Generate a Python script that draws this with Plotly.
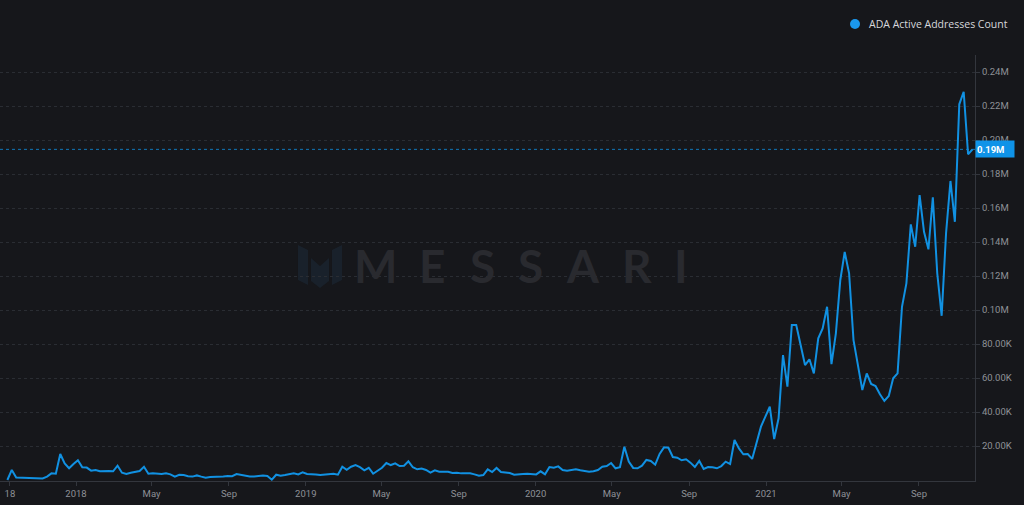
import pandas as pd
import plotly.graph_objects as go

# ---------------- data (weekly ADA active addresses) ----------------
start_date = "2017-09-14"
active_addresses = [
    0, 5900, 1400, 1300, 1200, 1000, 800, 800, 900, 2000, 3900, 3700, 15300, 9800, 6900, 9400,
    11600, 7500, 7300, 5500, 5900, 5100, 5300, 5300, 5100, 8400, 4300, 3600, 4300, 4900, 5300,
    7800, 3700, 3900, 3700, 3500, 3900, 3300, 2000, 3100, 2900, 2200, 2000, 2700, 2000, 1400,
    1800, 1800, 2000, 2000, 2400, 2200, 3500, 2900, 2400, 2000, 2000, 2200, 2700, 2400, 200,
    3100, 2500, 2900, 3500, 3900, 3300, 4500, 3500, 3500, 3300, 2900, 3100, 3500, 3700, 3100,
    # 2019
    7800, 6000, 7800, 8800, 7600, 5700, 7200, 3700, 5500, 7200, 10000, 8800, 9800, 8200, 8400,
    11000, 7500, 6300, 6700, 5900, 4300, 5700, 4900, 4900, 4900, 4100, 4300, 3900, 3900, 3900,
    3300, 2500, 2900,
    # late 2019 - 2020
    6300, 4700, 7100, 4700, 4300, 4100, 3100, 3500, 3500, 3700, 3300, 3300, 5100, 3300, 7600,
    7200, 8000, 5900, 5500, 5900, 6300, 5700, 5300, 4900, 5100, 5900, 7800, 8200, 10000, 6900,
    7500, 19600, 10800, 7100, 6900, 8400, 11800, 11200, 9000, 15300, 19200, 19000, 13500, 13100,
    11600, 12200, 10200, 7600, 11200, 6500, 7600, 7500, 6900, 8200, 10800, 9400, 23500,
    # 2021
    18600, 15100, 15300, 12400, 21600, 31400, 37300, 43100, 24100, 36300, 73500, 54900, 91200,
    91200, 79400, 67600, 71000, 62700, 83300, 89200, 101900, 68200, 86300, 117600, 134100,
    121600, 82300, 68600, 52900, 62700, 56500, 55300, 50400, 46500, 49400, 59800, 62700, 101900,
    115700, 150400, 137200, 167600, 146000, 135700, 166300, 121600, 96600, 145100, 175900,
    151900, 221000, 228400, 191600, 194500,
]
dates = pd.date_range(start_date, periods=len(active_addresses), freq="7D")
series_name = "ADA Active Addresses Count"

tick_dates = ["2017-09-18", "2018-01-01", "2018-05-01", "2018-09-01", "2019-01-01", "2019-05-01",
              "2019-09-01", "2020-01-01", "2020-05-01", "2020-09-01", "2021-01-01", "2021-05-01",
              "2021-09-01"]
tick_labels = ["18", "2018", "May", "Sep", "2019", "May", "Sep", "2020", "May", "Sep", "2021",
               "May", "Sep"]
y_ticks = [20000, 40000, 60000, 80000, 100000, 120000, 140000, 160000, 180000, 200000,
           220000, 240000]


def fmt(v):
    return f"{v/1e6:.2f}M" if v >= 100000 else f"{v/1e3:.2f}K"


# ---------------- style ----------------
BG = "#16171b"
LINE = "#1191e2"
GRID = "#2a2d33"
AXIS = "#33363d"
TXT = "#8e9197"

W, H = 1024, 505
ML, MR, MT, MB = 0, 49, 55, 24
plot_w = W - ML - MR
plot_h = H - MT - MB
px_per_day = 690 / (pd.Timestamp("2021-01-01") - pd.Timestamp("2018-01-01")).days
x0 = pd.Timestamp("2018-01-01") - pd.Timedelta(days=76 / px_per_day)
x1 = x0 + pd.Timedelta(days=plot_w / px_per_day)

fig = go.Figure()
fig.add_trace(go.Scatter(x=dates, y=active_addresses, mode="lines",
                         line=dict(color=LINE, width=2), showlegend=False,
                         name=series_name))

# legend (dot + label)
fig.add_shape(type="circle", xref="paper", yref="paper",
              x0=850 / plot_w, x1=860 / plot_w,
              y0=(H - MB - 29) / plot_h, y1=(H - MB - 19) / plot_h,
              fillcolor="#1a98ee", line=dict(width=0))
fig.add_annotation(xref="paper", yref="paper", x=867 / plot_w, xanchor="left",
                   y=(H - MB - 24) / plot_h, yanchor="middle", text=series_name,
                   showarrow=False, font=dict(color="#d6d8dc", size=10.5, family="Open Sans"))

last = active_addresses[-1]
fig.add_shape(type="line", xref="paper", x0=0, x1=1, yref="y", y0=last, y1=last,
              line=dict(color=LINE, width=1, dash="dot"), opacity=0.8)
fig.add_annotation(xref="paper", x=1, xanchor="left", yref="y", y=last, yanchor="middle",
                   text=f"<b>{last/1e6:.2f}M</b>", showarrow=False, align="left",
                   bgcolor="#0f93e8", width=36, height=14, borderpad=1,
                   font=dict(color="#ffffff", size=9.5, family="Roboto"))

# watermark
letters = list("MESSARI")
centers_px = [375, 432, 482, 530, 583, 637, 681]
for ch, cx in zip(letters, centers_px):
    fig.add_annotation(xref="paper", yref="paper", x=cx / plot_w, y=(H - MB - 265) / plot_h,
                       text=f"<b>{ch}</b>", showarrow=False, xanchor="center", yanchor="middle",
                       font=dict(color="#292a2f", size=46, family="Lato"))


def pp(x, y):
    return f"{x/plot_w:.5f} {(H - MB - y)/plot_h:.5f}"


logo_paths = [
    [(298, 245), (308, 250), (308, 285), (298, 280)],
    [(311, 258), (320, 266), (329, 258), (329, 281), (320, 288), (311, 281)],
    [(332, 250), (342, 245), (342, 280), (332, 285)],
]
for poly in logo_paths:
    d = "M " + " L ".join(pp(x, y) for x, y in poly) + " Z"
    fig.add_shape(type="path", xref="paper", yref="paper", path=d,
                  fillcolor="#19212b", line=dict(width=0), layer="below")

fig.update_layout(
    width=W, height=H,
    margin=dict(l=ML, r=MR, t=MT, b=MB),
    paper_bgcolor=BG, plot_bgcolor=BG,
    font=dict(family="Roboto", color=TXT, size=9.5),
    showlegend=False,
    xaxis=dict(range=[x0, x1], tickvals=pd.to_datetime(tick_dates), ticktext=tick_labels,
               showgrid=False, zeroline=False, showline=True, linecolor=AXIS, linewidth=1,
               ticks="outside", ticklen=4, tickcolor=AXIS,
               tickfont=dict(color=TXT, size=9.5)),
    yaxis=dict(side="right", range=[-590, 250000], tickvals=y_ticks,
               ticktext=[fmt(v) for v in y_ticks], showgrid=True, gridcolor=GRID,
               griddash="dot", gridwidth=1, zeroline=False, showline=True, linecolor=AXIS,
               ticks="outside", ticklen=4, tickcolor=AXIS,
               tickfont=dict(color=TXT, size=9.5)),
)

fig.write_html("out.html", config={"displayModeBar": False},
               post_script="document.body.style.margin='0';document.body.style.background='%s';" % BG)
